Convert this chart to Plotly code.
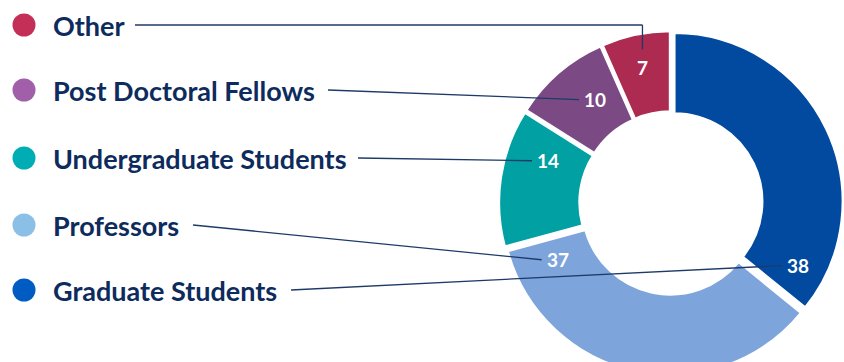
import math
import plotly.graph_objects as go

# Survey respondents by role, in clockwise order from 12 o'clock
categories = ["Graduate Students", "Professors", "Undergraduate Students",
              "Post Doctoral Fellows", "Other"]
counts = [38, 37, 14, 10, 7]

# Slice / legend-dot colours
slice_colors = ["#014a9f", "#7ea4dc", "#00a0a3", "#7b4a84", "#ad2a51"]
dot_colors = ["#005cc2", "#8cbfe6", "#00adb5", "#a05fa8", "#c42f58"]

# Canvas (drawn a little taller than the window so the ring runs off the bottom)
W, H = 844, 380
NAVY = "#0d2b5c"
LINE = "#1e3a68"

# Ring geometry in pixels
CX, CY, R = 671, 203, 169
PULL = 0.02
HOLE = 0.52

# Side labels: vertical position and where the leader line starts
label_y = {"Other": 25, "Post Doctoral Fellows": 90, "Undergraduate Students": 158,
           "Professors": 225, "Graduate Students": 290}
line_start_x = {"Other": 135, "Post Doctoral Fellows": 328,
                "Undergraduate Students": 358, "Professors": 193,
                "Graduate Students": 291}
# Where each value sits inside its slice: fraction along the arc, fraction of radius
value_place = {"Graduate Students": (0.9, 0.84), "Professors": (0.91, 0.75),
               "Undergraduate Students": (0.72, 0.77),
               "Post Doctoral Fellows": (0.63, 0.76), "Other": (0.5, 0.82)}

total = sum(counts)
half = R * (1 + PULL)
fig = go.Figure()

fig.add_trace(go.Pie(
    values=counts,
    labels=categories,
    sort=False,
    direction="clockwise",
    rotation=0,
    hole=HOLE,
    pull=[PULL] * len(counts),
    marker=dict(colors=slice_colors, line=dict(color="white", width=3)),
    textinfo="none",
    hoverinfo="label+value",
    showlegend=False,
    domain=dict(x=[(CX - half) / W, (CX + half) / W],
                y=[(H - (CY + half)) / H, (H - (CY - half)) / H]),
))

shapes = []
annotations = []
start = 0.0
for cat, val, dcol in zip(categories, counts, dot_colors):
    span = 360.0 * val / total
    frac, rfrac = value_place[cat]
    ang = math.radians(start + frac * span)
    vx = CX + rfrac * R * math.sin(ang)
    vy = CY - rfrac * R * math.cos(ang)
    start += span

    y = label_y[cat]
    # legend dot
    shapes.append(dict(type="circle", xref="x", yref="y",
                       x0=24 - 11.5, x1=24 + 11.5, y0=y - 11.5, y1=y + 11.5,
                       fillcolor=dcol, line=dict(width=0)))
    # category name
    annotations.append(dict(x=51, y=y, xref="x", yref="y", text=cat,
                            showarrow=False, xanchor="left", yanchor="middle",
                            font=dict(family="Lato", size=27, color=NAVY,
                                      weight="bold")))
    # value label on the slice
    annotations.append(dict(x=vx, y=vy, xref="x", yref="y", text=str(val),
                            showarrow=False, xanchor="center", yanchor="middle",
                            font=dict(family="Lato", size=19, color="white",
                                      weight="bold")))
    # leader line
    if cat == "Other":
        shapes.append(dict(type="line", xref="x", yref="y",
                           x0=line_start_x[cat], y0=y, x1=vx, y1=y,
                           line=dict(color=LINE, width=1.3)))
        shapes.append(dict(type="line", xref="x", yref="y",
                           x0=vx, y0=y, x1=vx, y1=vy - 18,
                           line=dict(color=LINE, width=1.3)))
    else:
        shapes.append(dict(type="line", xref="x", yref="y",
                           x0=line_start_x[cat], y0=y, x1=vx - 16, y1=vy,
                           line=dict(color=LINE, width=1.3)))

fig.update_layout(
    width=W, height=H,
    margin=dict(l=0, r=0, t=0, b=0),
    paper_bgcolor="white",
    plot_bgcolor="rgba(0,0,0,0)",
    xaxis=dict(range=[0, W], visible=False, fixedrange=True),
    yaxis=dict(range=[H, 0], visible=False, fixedrange=True),
    shapes=shapes,
    annotations=annotations,
)

fig.write_html(
    "out.html",
    post_script="document.documentElement.style.overflow='hidden';"
                "document.body.style.overflow='hidden';",
)
